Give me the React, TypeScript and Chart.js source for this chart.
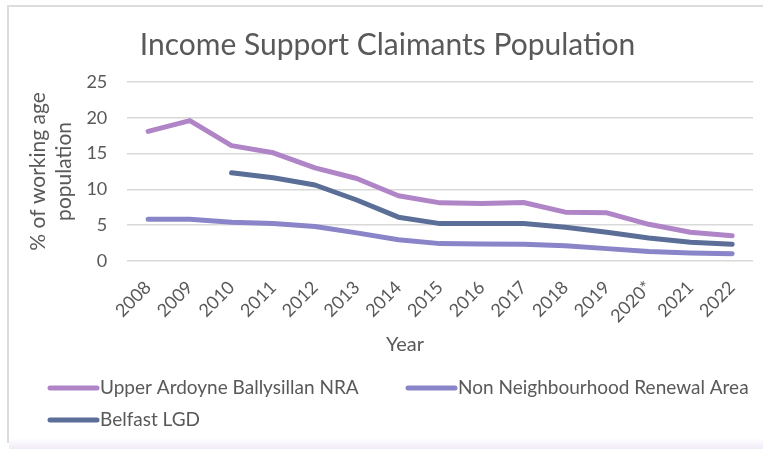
import React, { useEffect, useRef } from 'react';
import { Chart, registerables } from 'chart.js';

Chart.register(...registerables);

const years = ['2008', '2009', '2010', '2011', '2012', '2013', '2014', '2015', '2016', '2017', '2018', '2019', '2020*', '2021', '2022'];
const upperArdoyne = [18.1, 19.6, 16.1, 15.1, 13.0, 11.5, 9.1, 8.1, 8.0, 8.15, 6.8, 6.7, 5.1, 4.0, 3.5];
const nonNRA = [5.8, 5.8, 5.4, 5.2, 4.8, 3.9, 2.95, 2.4, 2.35, 2.3, 2.1, 1.7, 1.3, 1.1, 1.0];
const belfast = [null, null, 12.3, 11.6, 10.6, 8.5, 6.1, 5.2, 5.2, 5.2, 4.7, 4.0, 3.2, 2.6, 2.3];
const seriesNames = ['Upper Ardoyne Ballysillan NRA', 'Non Neighbourhood Renewal Area', 'Belfast LGD'];
const yTicks = [0, 5, 10, 15, 20, 25];

const TEXT = '#595959';
const FONT = 'Lato, "Open Sans", sans-serif';
const COLORS = ['#b085c7', '#8985c8', '#5a6e97'];

const extraText = {
  id: 'extraText',
  afterDraw(chart: any) {
    const { ctx } = chart;
    ctx.save();
    ctx.fillStyle = TEXT;
    ctx.font = `20px ${FONT}`;
    ctx.textAlign = 'center';
    ctx.textBaseline = 'middle';
    ctx.fillText('Year', 405, 345);

    const slots = [
      { x: 50, y: 388 },
      { x: 408, y: 388 },
      { x: 50, y: 420 },
    ];
    chart.data.datasets.forEach((ds: any, i: number) => {
      const s = slots[i];
      ctx.strokeStyle = ds.borderColor;
      ctx.lineWidth = 5;
      ctx.lineCap = 'round';
      ctx.beginPath();
      ctx.moveTo(s.x, s.y);
      ctx.lineTo(s.x + 47, s.y);
      ctx.stroke();
      ctx.textAlign = 'left';
      ctx.fillStyle = TEXT;
      ctx.font = `19px ${FONT}`;
      ctx.fillText(ds.label, s.x + 50, s.y);
    });
    ctx.restore();
  },
};

export default function App() {
  const ref = useRef<HTMLCanvasElement | null>(null);

  useEffect(() => {
    if (!ref.current) return;
    const chart = new Chart(ref.current, {
      type: 'line',
      data: {
        labels: years,
        datasets: [
          { label: seriesNames[0], data: upperArdoyne, borderColor: COLORS[0], backgroundColor: COLORS[0] },
          { label: seriesNames[1], data: nonNRA, borderColor: COLORS[1], backgroundColor: COLORS[1] },
          { label: seriesNames[2], data: belfast, borderColor: COLORS[2], backgroundColor: COLORS[2] },
        ],
      },
      options: {
        responsive: false,
        animation: false,
        layout: { padding: { top: 0, left: 22, right: 10, bottom: 114 } },
        elements: {
          line: { borderWidth: 5, tension: 0, borderCapStyle: 'round', borderJoinStyle: 'round' },
          point: { radius: 0, hoverRadius: 0 },
        },
        plugins: {
          legend: { display: false },
          tooltip: { enabled: false },
          title: {
            display: true,
            text: 'Income Support Claimants Population',
            color: TEXT,
            font: { family: FONT, size: 30, weight: 'normal' },
            padding: { top: 27, bottom: 19 },
          },
        },
        scales: {
          x: {
            offset: true,
            grid: { display: false },
            border: { display: false },
            afterFit: (scale: any) => {
              scale.paddingLeft = 0;
              scale.paddingRight = 0;
            },
            ticks: {
              color: TEXT,
              font: { family: FONT, size: 18 },
              minRotation: 45,
              maxRotation: 45,
              autoSkip: false,
              padding: 8,
            },
          },
          y: {
            min: 0,
            max: 25,
            afterBuildTicks: (axis: any) => {
              axis.ticks = yTicks.map((v) => ({ value: v }));
            },
            grid: { color: '#d9d9d9', lineWidth: 1.5, drawTicks: false },
            border: { display: false },
            ticks: {
              color: TEXT,
              font: { family: FONT, size: 18 },
              padding: 20,
            },
            title: {
              display: true,
              text: ['% of working age', 'population'],
              color: TEXT,
              font: { family: FONT, size: 21, lineHeight: 1.2 },
              padding: { top: 4, bottom: -10 },
            },
          },
        },
      },
      plugins: [extraText],
    });
    return () => chart.destroy();
  }, []);

  return (
    <div style={{ position: 'fixed', left: 0, top: 0, width: 763, height: 449, background: '#ffffff', overflow: 'hidden' }}>
      <div
        style={{
          position: 'absolute',
          left: 7,
          top: 5,
          width: 770,
          height: 436,
          borderLeft: '2px solid #dcdcdc',
          borderTop: '2px solid #dcdcdc',
        }}
      />
      <div
        style={{
          position: 'absolute',
          left: 9,
          top: 438,
          width: 760,
          height: 11,
          background: 'linear-gradient(#ffffff, #f1ebf8)',
        }}
      />
      <canvas ref={ref} width={763} height={449} style={{ position: 'absolute', left: 0, top: 0, width: 763, height: 449 }} />
    </div>
  );
}
